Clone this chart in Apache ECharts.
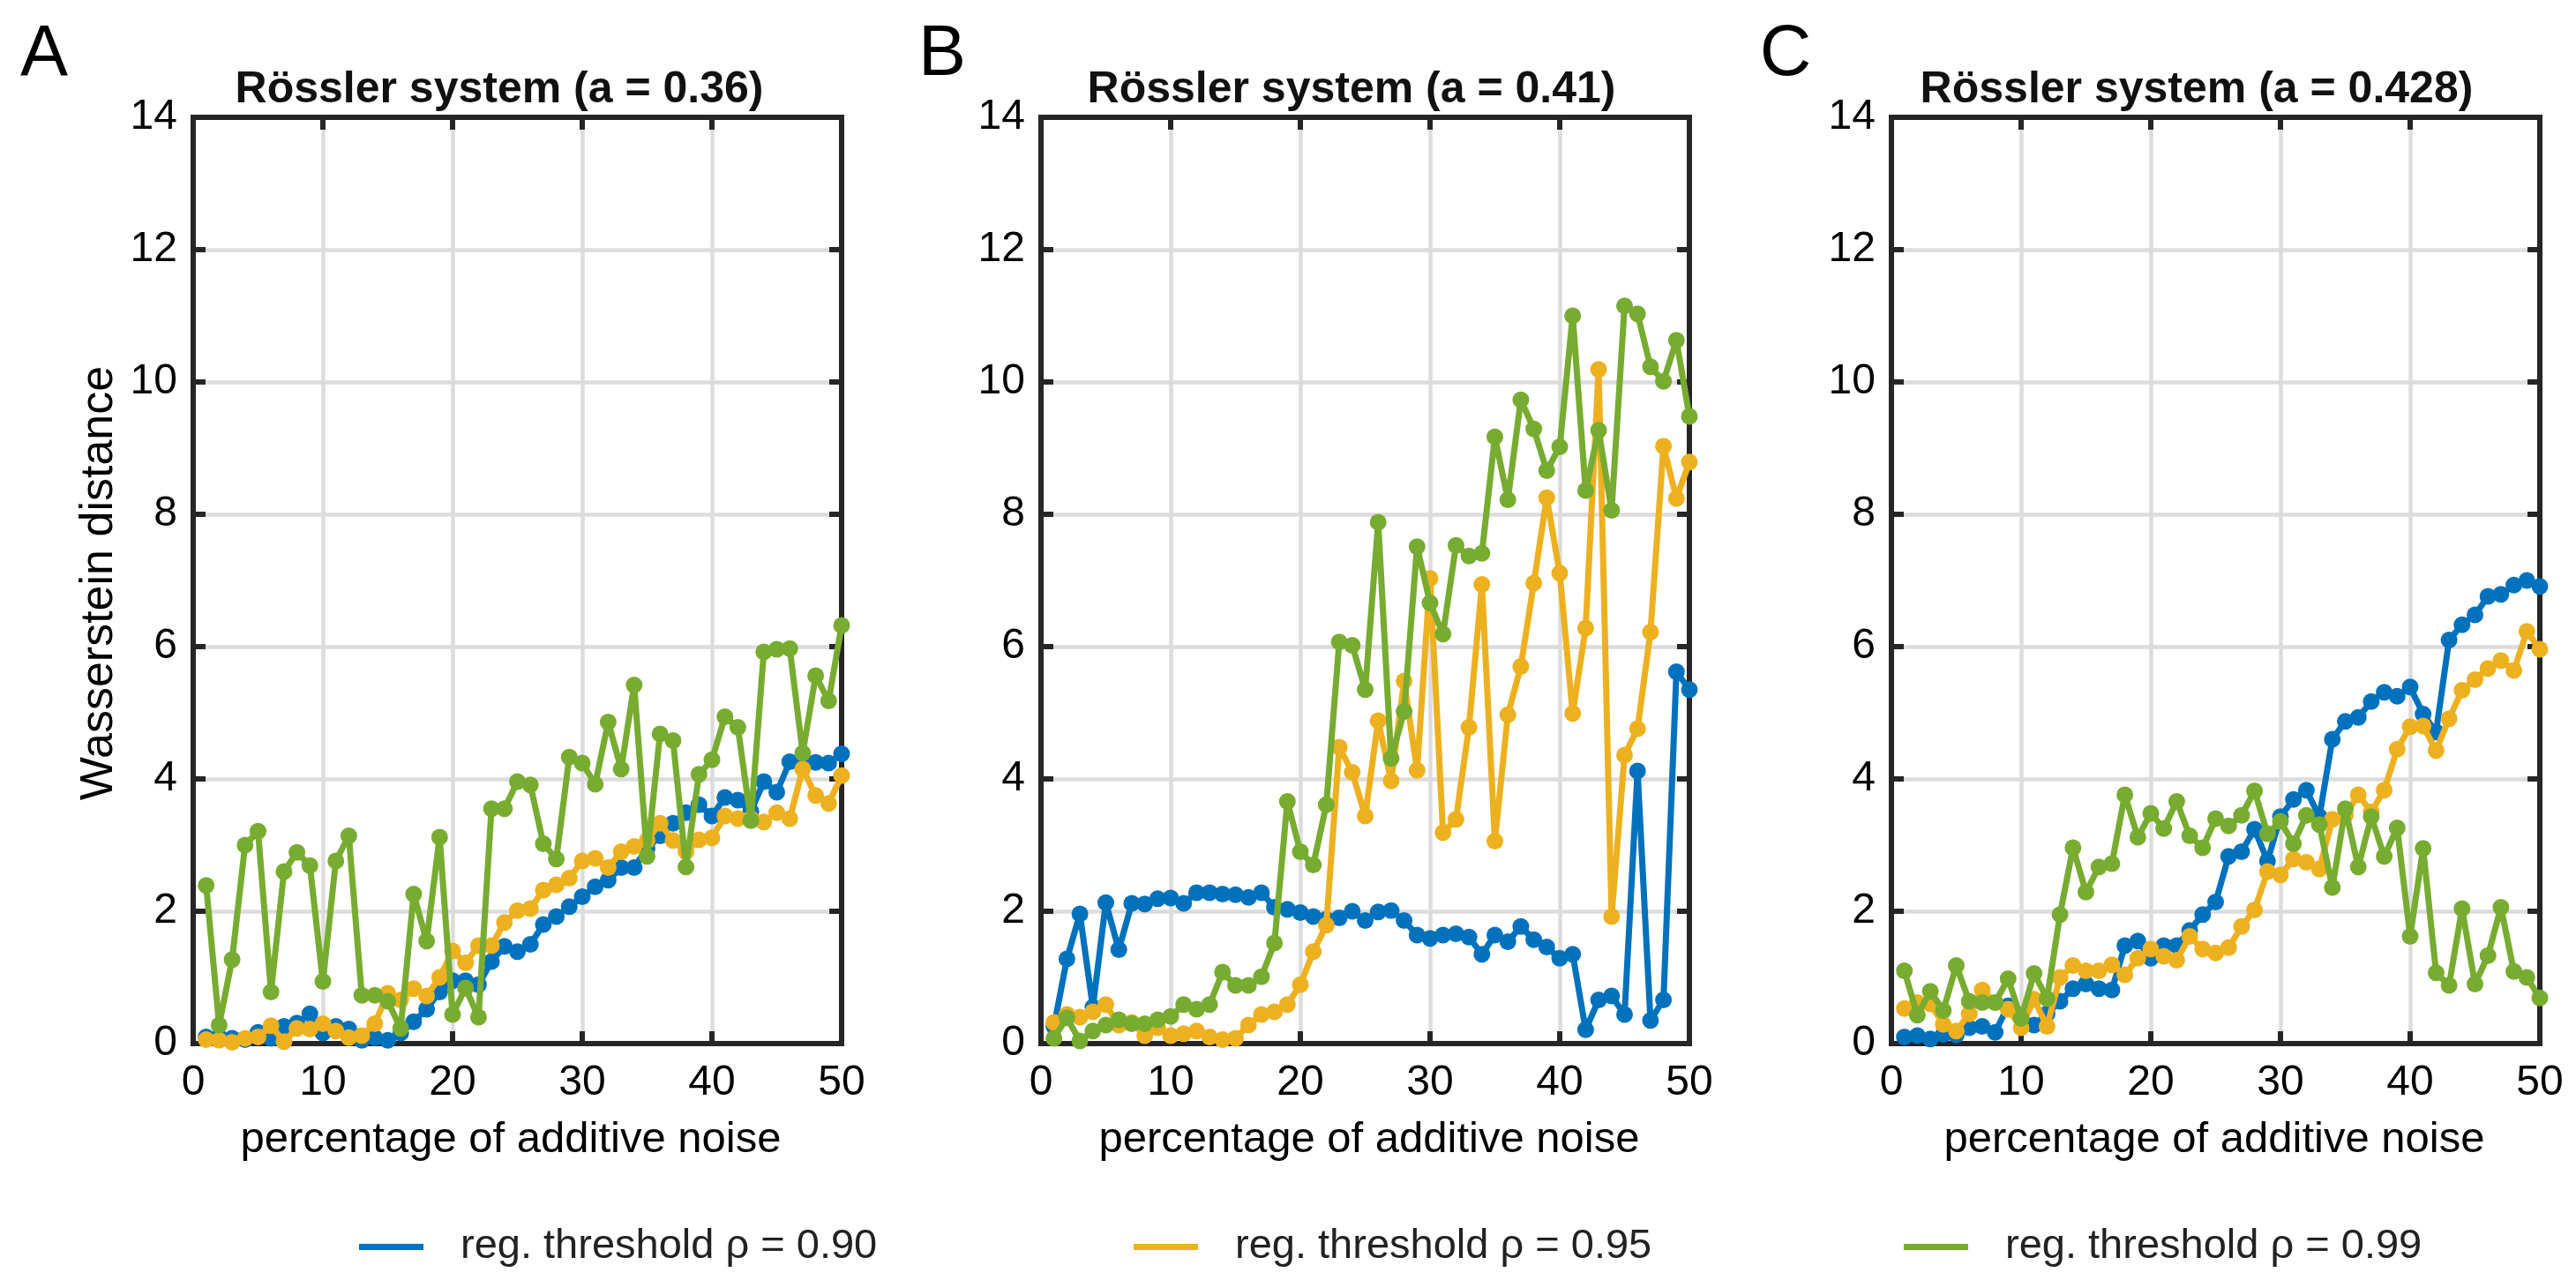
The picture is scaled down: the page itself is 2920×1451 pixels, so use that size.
<!DOCTYPE html>
<html>
<head>
<meta charset="utf-8">
<script src="https://cdn.jsdelivr.net/npm/echarts@6/dist/echarts.min.js"></script>
<style>
html,body{margin:0;padding:0;background:#fff;}
#chart{width:2920px;height:1451px;}
</style>
</head>
<body>
<div id="chart"></div>
<script>
// ---------- data ----------
const noisePct = [1,2,3,4,5,6,7,8,9,10,11,12,13,14,15,16,17,18,19,20,21,22,23,24,25,26,27,28,29,30,31,32,33,34,35,36,37,38,39,40,41,42,43,44,45,46,47,48,49,50];

const panelTitles = ['Rössler system (a = 0.36)', 'Rössler system (a = 0.41)', 'Rössler system (a = 0.428)'];
const panelLetters = ['A', 'B', 'C'];
const seriesNames = ['reg. threshold ρ = 0.90', 'reg. threshold ρ = 0.95', 'reg. threshold ρ = 0.99'];
const xTitle = 'percentage of additive noise';
const yTitle = 'Wasserstein distance';

const blueA = [0.1,0.1,0.08,0.06,0.17,0.08,0.26,0.31,0.45,0.16,0.26,0.22,0.05,0.09,0.05,0.16,0.33,0.52,0.78,0.95,0.95,0.89,1.24,1.47,1.39,1.5,1.8,1.92,2.07,2.22,2.37,2.47,2.66,2.66,2.95,3.14,3.33,3.49,3.61,3.44,3.72,3.68,3.51,3.96,3.8,4.26,4.19,4.25,4.24,4.38];
const yellowA = [0.06,0.05,0.02,0.08,0.1,0.27,0.03,0.23,0.22,0.3,0.19,0.09,0.12,0.3,0.76,0.66,0.83,0.72,1.0,1.4,1.22,1.48,1.48,1.83,2.01,2.04,2.32,2.4,2.5,2.76,2.8,2.66,2.9,2.98,3.07,3.33,3.07,2.9,3.08,3.11,3.44,3.4,3.4,3.35,3.49,3.4,4.15,3.75,3.63,4.05];
const greenA = [2.39,0.28,1.27,3.0,3.21,0.78,2.6,2.89,2.69,0.94,2.76,3.14,0.73,0.73,0.64,0.23,2.26,1.55,3.12,0.44,0.84,0.4,3.55,3.55,3.96,3.91,3.02,2.79,4.33,4.24,3.92,4.86,4.15,5.42,2.83,4.68,4.58,2.67,4.07,4.29,4.94,4.78,3.37,5.92,5.96,5.97,4.39,5.56,5.18,6.32];

const blueB = [0.26,1.28,1.96,0.55,2.13,1.42,2.12,2.11,2.19,2.2,2.12,2.28,2.28,2.26,2.25,2.21,2.28,2.06,2.03,1.98,1.92,1.88,1.9,2.0,1.86,1.99,2.01,1.86,1.64,1.59,1.64,1.66,1.61,1.35,1.64,1.54,1.77,1.57,1.46,1.29,1.35,0.21,0.66,0.72,0.44,4.12,0.35,0.66,5.62,5.35];
const yellowB = [0.32,0.44,0.4,0.48,0.59,0.28,0.32,0.12,0.24,0.12,0.15,0.19,0.1,0.06,0.08,0.28,0.44,0.48,0.59,0.89,1.39,1.79,4.48,4.1,3.44,4.88,3.97,5.48,4.13,7.03,3.19,3.39,4.78,6.94,3.06,4.97,5.7,6.96,8.25,7.11,4.99,6.28,10.19,1.92,4.36,4.76,6.22,9.03,8.24,8.79];
const greenB = [0.08,0.39,0.04,0.19,0.28,0.36,0.3,0.3,0.36,0.41,0.59,0.52,0.59,1.08,0.88,0.88,1.01,1.52,3.66,2.9,2.7,3.61,6.07,6.02,5.35,7.88,4.31,5.02,7.51,6.66,6.19,7.53,7.37,7.41,9.17,8.22,9.73,9.29,8.66,9.02,11.0,8.36,9.27,8.06,11.15,11.03,10.23,10.01,10.63,9.48];

const blueC = [0.1,0.12,0.07,0.14,0.13,0.24,0.26,0.17,0.57,0.43,0.28,0.45,0.64,0.83,0.9,0.83,0.81,1.48,1.55,1.29,1.48,1.48,1.71,1.95,2.14,2.83,2.9,3.24,2.76,3.43,3.69,3.83,3.43,4.6,4.87,4.93,5.17,5.31,5.25,5.39,4.98,4.71,6.1,6.33,6.48,6.76,6.79,6.93,7.0,6.91];
const yellowC = [0.53,0.62,0.6,0.29,0.19,0.45,0.81,0.62,0.52,0.24,0.67,0.26,1.0,1.18,1.1,1.1,1.19,1.04,1.29,1.43,1.32,1.26,1.62,1.43,1.37,1.45,1.77,2.02,2.6,2.55,2.79,2.74,2.64,3.39,3.45,3.76,3.5,3.83,4.45,4.79,4.8,4.43,4.91,5.34,5.5,5.67,5.79,5.64,6.23,5.96];
const greenC = [1.1,0.43,0.79,0.5,1.18,0.64,0.62,0.62,0.98,0.38,1.06,0.68,1.95,2.96,2.29,2.67,2.72,3.76,3.12,3.48,3.25,3.66,3.14,2.96,3.4,3.29,3.45,3.82,3.17,3.36,3.02,3.45,3.31,2.36,3.55,2.67,3.43,2.83,3.26,1.62,2.95,1.07,0.88,2.04,0.9,1.33,2.06,1.09,1.0,0.69];

const xTicks = [0,10,20,30,40,50];
const yTicks = [0,2,4,6,8,10,12,14];

// ---------- style / layout ----------
const FONT = '"Liberation Sans", Arial, Helvetica, sans-serif';
const colors = ['#0072BD', '#EDB120', '#77AC30'];
const panels = [[blueA, yellowA, greenA], [blueB, yellowB, greenB], [blueC, yellowC, greenC]];
const gridLeft = [219, 1180, 2144];
const gridTop = 133, gridW = 735, gridH = 1050;
const titleX = [566, 1532, 2490];
const letterX = [50, 1068, 2024];
const xlabX = [579, 1552, 2510];
const legendLeft = [407, 1285, 2158];
const frameColor = '#262626';
const gridColor = '#dcdcdc';

const tickStyle = {show: true, inside: true, length: 14, lineStyle: {color: frameColor, width: 6}};
const lineStyleAx = {show: true, onZero: false, lineStyle: {color: frameColor, width: 6, cap: 'square'}};

const grids = [], xAxes = [], yAxes = [], series = [], graphics = [];
panels.forEach((p, i) => {
  grids.push({left: gridLeft[i], top: gridTop, width: gridW, height: gridH, show: false});
  const xBase = {gridIndex: i, type: 'value', min: xTicks[0], max: xTicks[xTicks.length - 1],
    interval: xTicks[1] - xTicks[0], axisLine: lineStyleAx, axisTick: tickStyle, z: 5};
  const yBase = {gridIndex: i, type: 'value', min: yTicks[0], max: yTicks[yTicks.length - 1],
    interval: yTicks[1] - yTicks[0], axisLine: lineStyleAx, axisTick: tickStyle, z: 5};
  xAxes.push(Object.assign({}, xBase, {position: 'bottom',
    axisLabel: {show: true, margin: 21, fontSize: 48, fontFamily: FONT, color: '#000'},
    splitLine: {show: true, lineStyle: {color: gridColor, width: 4.5}}}));
  xAxes.push(Object.assign({}, xBase, {position: 'top',
    axisLabel: {show: false}, splitLine: {show: false}}));
  yAxes.push(Object.assign({}, yBase, {position: 'left',
    axisLabel: {show: true, margin: 18, fontSize: 48, fontFamily: FONT, color: '#000'},
    splitLine: {show: true, lineStyle: {color: gridColor, width: 4.5}}}));
  yAxes.push(Object.assign({}, yBase, {position: 'right',
    axisLabel: {show: false}, splitLine: {show: false}}));
  p.forEach((vals, k) => {
    series.push({
      name: seriesNames[k], type: 'line',
      xAxisIndex: 2 * i, yAxisIndex: 2 * i,
      data: noisePct.map((x, j) => [x, vals[j]]),
      symbol: 'circle', symbolSize: 19, showSymbol: true,
      lineStyle: {color: colors[k], width: 7},
      itemStyle: {color: colors[k]},
      z: 10 + k, clip: false,
      emphasis: {disabled: true}
    });
  });
  graphics.push({type: 'text', x: titleX[i], y: 102,
    style: {text: panelTitles[i], fontSize: 50, fontWeight: 'bold', fontFamily: FONT,
      fill: '#111', align: 'center', verticalAlign: 'middle'}});
  graphics.push({type: 'text', x: letterX[i], y: 63,
    style: {text: panelLetters[i], fontSize: 81, fontFamily: FONT,
      fill: '#000', align: 'center', verticalAlign: 'middle'}});
  graphics.push({type: 'text', x: xlabX[i], y: 1292,
    style: {text: xTitle, fontSize: 49, fontFamily: FONT,
      fill: '#000', align: 'center', verticalAlign: 'middle'}});
});
graphics.push({type: 'text', x: 113, y: 661, rotation: Math.PI / 2,
  style: {text: yTitle, fontSize: 52, fontFamily: FONT,
    fill: '#000', align: 'center', verticalAlign: 'middle'}});

const legends = seriesNames.map((nm, k) => ({
  data: [nm], left: legendLeft[k], top: 1390, padding: 0,
  icon: 'rect', itemWidth: 73, itemHeight: 7, selectedMode: false,
  textStyle: {fontSize: 47, fontFamily: FONT, color: '#222', padding: [0, 0, 0, 37]}
}));

const chart = echarts.init(document.getElementById('chart'), null, {renderer: 'canvas'});
chart.setOption({
  animation: false,
  backgroundColor: '#fff',
  grid: grids, xAxis: xAxes, yAxis: yAxes, series: series,
  legend: legends, graphic: graphics
});
</script>
</body>
</html>
